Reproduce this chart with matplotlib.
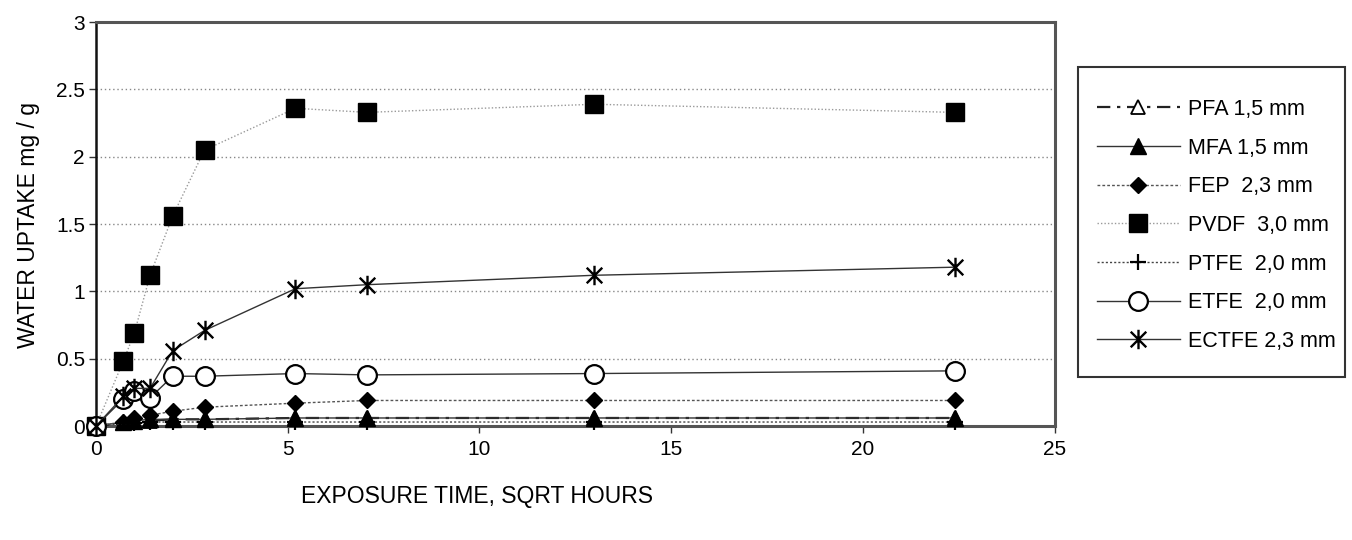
import matplotlib
matplotlib.use("Agg")
import matplotlib.pyplot as plt
from matplotlib.path import Path
from matplotlib.patches import Rectangle
from matplotlib.lines import Line2D

plt.rcParams['font.family'] = ['Liberation Sans', 'DejaVu Sans']

# exposure time (sqrt hours)
t = [0, 0.71, 1.0, 1.41, 2.0, 2.83, 5.2, 7.07, 13.0, 22.4]

# water uptake, mg/g
pfa   = [0, 0.02, 0.03, 0.04, 0.05, 0.05, 0.06, 0.06, 0.06, 0.06]
mfa   = [0, 0.03, 0.04, 0.05, 0.05, 0.05, 0.06, 0.06, 0.06, 0.06]
fep   = [0, 0.03, 0.06, 0.08, 0.11, 0.14, 0.17, 0.19, 0.19, 0.19]
pvdf  = [0, 0.48, 0.69, 1.12, 1.56, 2.05, 2.36, 2.33, 2.39, 2.33]
ptfe  = [0, 0.02, 0.02, 0.03, 0.03, 0.03, 0.03, 0.03, 0.03, 0.03]
etfe  = [0, 0.20, 0.26, 0.21, 0.37, 0.37, 0.39, 0.38, 0.39, 0.41]
ectfe = [0, 0.22, 0.28, 0.28, 0.56, 0.71, 1.02, 1.05, 1.12, 1.18]

labels = ["PFA 1,5 mm", "MFA 1,5 mm", "FEP  2,3 mm", "PVDF  3,0 mm",
          "PTFE  2,0 mm", "ETFE  2,0 mm", "ECTFE 2,3 mm"]

x_ticks = [0, 5, 10, 15, 20, 25]
y_ticks = [0, 0.5, 1, 1.5, 2, 2.5, 3]
y_tick_labels = ["0", "0.5", "1", "1.5", "2", "2.5", "3"]

# six-armed star marker: vertical bar plus two diagonals
star = Path([(0, -1), (0, 1), (-0.8, -0.8), (0.8, 0.8), (-0.8, 0.8), (0.8, -0.8)],
            [Path.MOVETO, Path.LINETO] * 3)

styles = [
    dict(ls=(0, (6, 3, 1.5, 3)), lw=1.6, color='#222222', marker='^', ms=10,
         mfc='white', mec='black', mew=1.3),
    dict(ls='-', lw=1.0, color='#333333', marker='^', ms=11,
         mfc='black', mec='black', mew=1),
    dict(ls=(0, (2, 1.5)), lw=1.0, color='#555555', marker='D', ms=8.5,
         mfc='black', mec='black', mew=1),
    dict(ls=(0, (1, 1.5)), lw=1.0, color='#999999', marker='s', ms=13,
         mfc='black', mec='black', mew=1),
    dict(ls=(0, (1.5, 1.5)), lw=1.0, color='#444444', marker='+', ms=11,
         mfc='black', mec='black', mew=1.6),
    dict(ls='-', lw=1.0, color='#333333', marker='o', ms=13.5,
         mfc='white', mec='black', mew=1.6),
    dict(ls='-', lw=1.0, color='#333333', marker=star, ms=14,
         mfc='black', mec='black', mew=1.7),
]
series = [pfa, mfa, fep, pvdf, ptfe, etfe, ectfe]

fig = plt.figure(figsize=(13.52, 5.40), dpi=100)
ax = fig.add_axes([0.071, 0.211, 0.709, 0.748])

for vals, st in zip(series, styles):
    ax.plot(t, vals, clip_on=False, zorder=3, **st)

ax.set_xlim(0, 25)
ax.set_ylim(0, 3)
ax.set_xticks(x_ticks)
ax.set_yticks(y_ticks)
ax.set_yticklabels(y_tick_labels)
ax.tick_params(axis='both', direction='out', length=5, width=1, labelsize=15,
               color='#333333')
ax.tick_params(axis='x', pad=5)
ax.tick_params(axis='y', pad=3)

for yv in y_ticks[1:-1]:
    ax.axhline(yv, color='#888888', lw=1.0, ls=(0, (1, 2)), zorder=1)

for side in ['top', 'right', 'bottom']:
    ax.spines[side].set_color('#555555')
    ax.spines[side].set_linewidth(2.2)
ax.spines['left'].set_color('#111111')
ax.spines['left'].set_linewidth(1.8)

fig.text(0.021, 0.583, "WATER UPTAKE mg / g", rotation=90, ha='center',
         va='center', fontsize=16.5)
fig.text(0.353, 0.080, "EXPOSURE TIME, SQRT HOURS", ha='center', va='center',
         fontsize=16.5)

# legend frame and entries
fig.patches.append(Rectangle((1078 / 1352, 1 - 377 / 540), 267 / 1352, 310 / 540,
                             transform=fig.transFigure, fill=False,
                             edgecolor='#333333', lw=1.5))
handles = [Line2D([], [], **st) for st in styles]
leg = fig.legend(handles, labels, loc='upper left',
                 bbox_to_anchor=(1097 / 1352, 1 - 99 / 540),
                 frameon=False, fontsize=15.5, handlelength=3.85,
                 handletextpad=0.37, labelspacing=0.82, borderpad=0,
                 borderaxespad=0)

fig.savefig("out.png", dpi=100)
